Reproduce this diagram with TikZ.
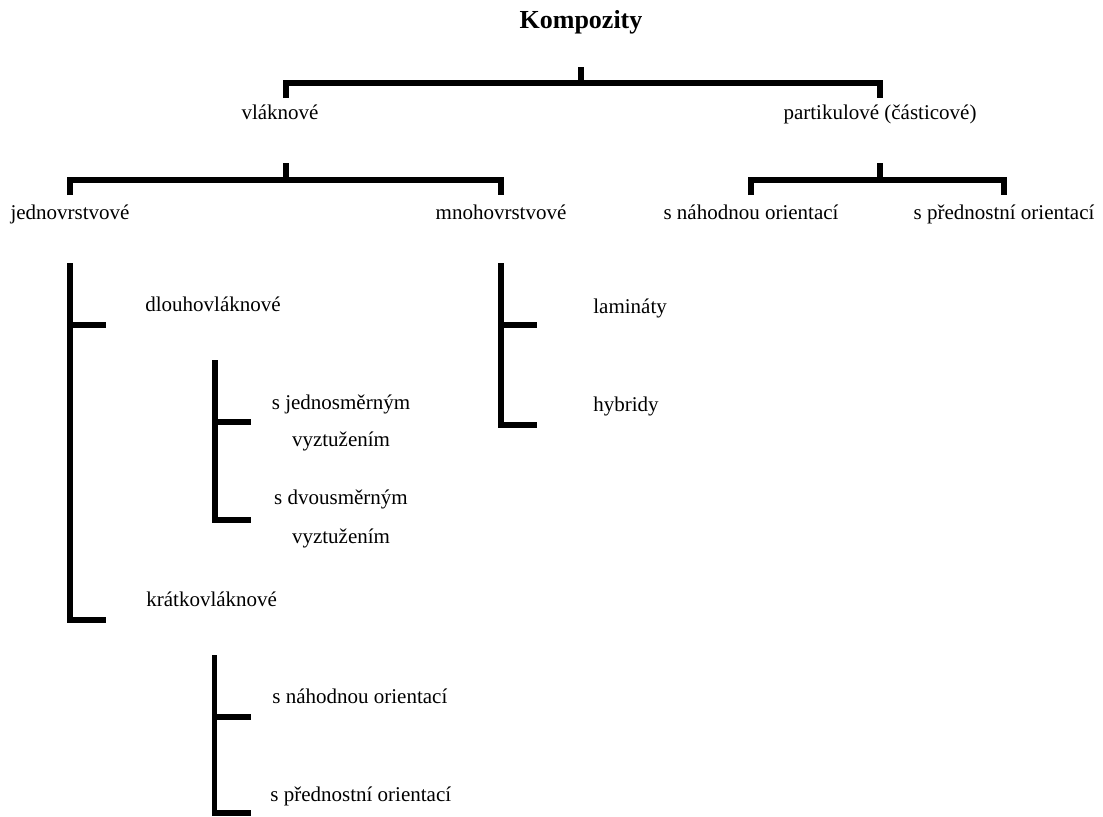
\documentclass[tikz,border=0pt]{standalone}
\usepackage{fontspec}
\setmainfont{Liberation Serif}
\usetikzlibrary{positioning}
\tikzset{K label/.style={inner sep=0pt,anchor=base,font=\rmfamily\fontsize{10.5}{12.6}\selectfont},
	K line/.style={line width=2.6pt,line join=miter},}

\begin{document}
\begin{tikzpicture}[x=0.5pt,y=-0.5pt]
			\useasboundingbox (0,0) rectangle (1103,816);
			\node[K label,font=\rmfamily\fontsize{13}{15}\selectfont\bfseries] (komp) at (581,28) {Kompozity};

			\node[K label] (vlak) at (280,119) {vláknové};
			\node[K label] (part) at (880,119) {partikulové (částicové)};

			\node[K label] (jedno) at (70,219) {jednovrstvové};
			\node[K label] (mnoho) at (501,219) {mnohovrstvové};
			\node[K label] (nah1) at (751,219) {s náhodnou orientací};
			\node[K label] (pred1) at (1004,219) {s přednostní orientací};

			\node[K label,anchor=base west] (dlouho) at (145,311) {dlouhovláknové};
			\node[K label] (jednosm) at (341,409) {s jednosměrným};
			\node[K label] (jednosm2) at (341,446) {vyztužením};
			\node[K label] (dvousm) at (341,504) {s dvousměrným};
			\node[K label] (dvousm2) at (341,543) {vyztužením};
			\node[K label,anchor=base west] (kratko) at (146,606) {krátkovláknové};
			\node[K label,anchor=base west] (nah2) at (272,703) {s náhodnou orientací};
			\node[K label,anchor=base west] (pred2) at (270,801) {s přednostní orientací};

			\node[K label,anchor=base west] (lamin) at (593,313) {lamináty};
			\node[K label,anchor=base west] (hybr) at (593,411) {hybridy};

			\coordinate (vlakstem) at ([xshift=3pt]vlak.base);
			\coordinate (dlouhostem) at ([xshift=1pt]dlouho.base);
			\coordinate (kratkostem) at ([xshift=1.5pt]kratko.base);

			% brackets below the headings
			\draw[K line] (komp |- 0,67) -- (komp |- 0,83);
			\draw[K line] (vlakstem |- 0,98) -- (vlakstem |- 0,83) -- (part |- 0,83) -- (part |- 0,98);
			\draw[K line] (vlakstem |- 0,163) -- (vlakstem |- 0,180);
			\draw[K line] (jedno |- 0,195) -- (jedno |- 0,180) -- (mnoho |- 0,180) -- (mnoho |- 0,195);
			\draw[K line] (part |- 0,163) -- (part |- 0,180);
			\draw[K line] (nah1 |- 0,195) -- (nah1 |- 0,180) -- (pred1 |- 0,180) -- (pred1 |- 0,195);

			% vertical trees
			\draw[K line] (jedno |- 0,263) -- (jedno |- 0,620) -- ++(36,0) (jedno |- 0,325) -- ++(36,0);
			\draw[K line] (dlouhostem |- 0,360) -- (dlouhostem |- 0,520) -- ++(36,0) (dlouhostem |- 0,422) -- ++(36,0);
			\draw[K line] (mnoho |- 0,263) -- (mnoho |- 0,425) -- ++(36,0) (mnoho |- 0,325) -- ++(36,0);
			\draw[K line] (kratkostem |- 0,655) -- (kratkostem |- 0,813) -- ++(36,0) (kratkostem |- 0,717) -- ++(36,0);
		\end{tikzpicture}
\end{document}
